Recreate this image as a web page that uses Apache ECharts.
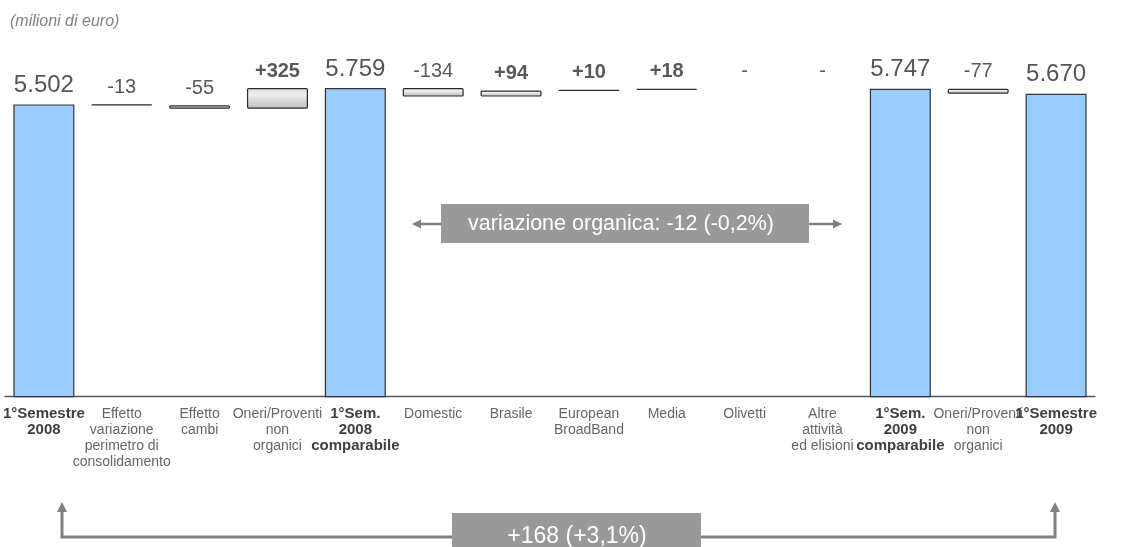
<!DOCTYPE html>
<html>
<head>
<meta charset="utf-8">
<script src="https://cdn.jsdelivr.net/npm/echarts@6/dist/echarts.min.js"></script>
<style>
  html, body { margin: 0; padding: 0; background: #ffffff; }
  #chart { width: 1128px; height: 547px; }
</style>
</head>
<body>
<div id="chart"></div>
<script>
// Ricavi consolidati: ponte 1° semestre 2008 -> 1° semestre 2009 (milioni di euro)
const categories = [
  '1°Semestre\n2008',
  'Effetto\nvariazione\nperimetro di\nconsolidamento',
  'Effetto\ncambi',
  'Oneri/Proventi\nnon\norganici',
  '1°Sem.\n2008\ncomparabile',
  'Domestic',
  'Brasile',
  'European\nBroadBand',
  'Media',
  'Olivetti',
  'Altre\nattività\ned elisioni',
  '1°Sem.\n2009\ncomparabile',
  'Oneri/Proventi\nnon\norganici',
  '1°Semestre\n2009'
];

// Totali di periodo (barre piene)
const totals = [5502, null, null, null, 5759, null, null, null, null, null, null, 5747, null, 5670];

// Variazioni (barre flottanti)
const deltas = [null, -13, -55, 325, null, -134, 94, 10, 18, 0, 0, null, -77, null];

// Didascalie delle frecce
const organicText = 'variazione organica: -12 (-0,2%)';
const totalText = '+168 (+3,1%)';
const unitText = '(milioni di euro)';

// Costruzione del waterfall: base trasparente + barra visibile
const baseData = [];
const barData = [];
let level = 0;
categories.forEach((c, i) => {
  if (totals[i] != null) {
    level = totals[i];
    baseData.push(0);
    barData.push({
      value: totals[i],
      itemStyle: { color: '#99ccff', borderColor: '#333333', borderWidth: 1.2 },
      label: { fontSize: 24, fontWeight: 'normal', color: '#555555' }
    });
  } else {
    const d = deltas[i];
    const next = level + d;
    baseData.push(Math.min(level, next));
    const item = {
      value: Math.abs(d),
      itemStyle: {
        color: {
          type: 'linear', x: 0, y: 0, x2: 0, y2: 1,
          colorStops: [
            { offset: 0, color: '#dedede' },
            { offset: 0.3, color: '#f0f0f0' },
            { offset: 1, color: '#bdbdbd' }
          ]
        },
        borderColor: '#2b2b2b',
        borderWidth: 1.2,
        borderRadius: 1
      },
      label: { fontSize: 20, fontWeight: d > 0 ? 'bold' : 'normal' }
    };
    if (d === 0) {
      item.itemStyle = { color: 'rgba(0,0,0,0)', borderWidth: 0 };
    }
    barData.push(item);
    level = next;
  }
});

function valueLabel(p) {
  const i = p.dataIndex;
  if (totals[i] != null) return (totals[i] / 1000).toFixed(3);
  const d = deltas[i];
  if (d === 0) return '-';
  return (d > 0 ? '+' : '-') + Math.abs(d);
}

function categoryLabel(value, idx) {
  const key = totals[idx] != null ? 't' : 'n';
  return value.split('\n').map(l => '{' + key + '|' + l + '}').join('\n');
}

const chart = echarts.init(document.getElementById('chart'), null, { renderer: 'canvas' });

const arrowColor = '#808080';
const boxColor = '#999999';

chart.setOption({
  animation: false,
  backgroundColor: '#ffffff',
  grid: { left: 3.5, width: 1091.5, top: 41, height: 355.7, containLabel: false },
  xAxis: {
    type: 'category',
    data: categories,
    axisLine: { lineStyle: { color: '#555555', width: 1.3 } },
    axisTick: { show: false },
    axisLabel: {
      interval: 0,
      margin: 9,
      formatter: categoryLabel,
      rich: {
        n: { fontFamily: 'Liberation Sans', fontSize: 14, color: '#666666', lineHeight: 16 },
        t: { fontFamily: 'Liberation Sans', fontSize: 15, fontWeight: 'bold', color: '#404040', lineHeight: 16 }
      }
    }
  },
  yAxis: {
    type: 'value',
    min: 900,
    max: 6500,
    show: false,
    splitLine: { show: false }
  },
  series: [
    {
      type: 'bar',
      stack: 'ponte',
      barWidth: 61,
      itemStyle: { color: 'rgba(0,0,0,0)' },
      emphasis: { disabled: true },
      data: baseData,
      silent: true
    },
    {
      type: 'bar',
      stack: 'ponte',
      barWidth: 61,
      data: barData,
      label: {
        show: true,
        position: 'top',
        distance: 7,
        fontFamily: 'Liberation Sans',
        color: '#595959',
        formatter: valueLabel
      }
    }
  ],
  graphic: [
    {
      type: 'text', left: 10, top: 14,
      style: { text: unitText, font: 'italic 16px "Liberation Sans"', fill: '#7f7f7f' }
    },
    // variazione organica
    {
      type: 'rect', shape: { x: 441, y: 204, width: 368, height: 39 },
      style: { fill: boxColor }
    },
    {
      type: 'text', x: 621, y: 224,
      style: { text: organicText, font: '21.5px "Liberation Sans"', fill: '#ffffff', align: 'center', verticalAlign: 'middle' }
    },
    {
      type: 'line', shape: { x1: 441, y1: 224, x2: 419, y2: 224 },
      style: { stroke: arrowColor, lineWidth: 2.5 }
    },
    {
      type: 'polygon', shape: { points: [[412, 224], [421, 219.5], [421, 228.5]] },
      style: { fill: arrowColor }
    },
    {
      type: 'line', shape: { x1: 809, y1: 224, x2: 835, y2: 224 },
      style: { stroke: arrowColor, lineWidth: 2.5 }
    },
    {
      type: 'polygon', shape: { points: [[842, 224], [833, 219.5], [833, 228.5]] },
      style: { fill: arrowColor }
    },
    // variazione totale
    {
      type: 'polyline', shape: { points: [[62, 511], [62, 537], [1055, 537], [1055, 511]] },
      style: { stroke: arrowColor, lineWidth: 3, fill: null }
    },
    {
      type: 'polygon', shape: { points: [[62, 502], [57, 512], [67, 512]] },
      style: { fill: arrowColor }
    },
    {
      type: 'polygon', shape: { points: [[1055, 502], [1050, 512], [1060, 512]] },
      style: { fill: arrowColor }
    },
    {
      type: 'rect', shape: { x: 452, y: 513, width: 249, height: 40 },
      style: { fill: boxColor }
    },
    {
      type: 'text', x: 577, y: 537,
      style: { text: totalText, font: '23px "Liberation Sans"', fill: '#ffffff', align: 'center', verticalAlign: 'middle' }
    }
  ]
});
</script>
</body>
</html>
